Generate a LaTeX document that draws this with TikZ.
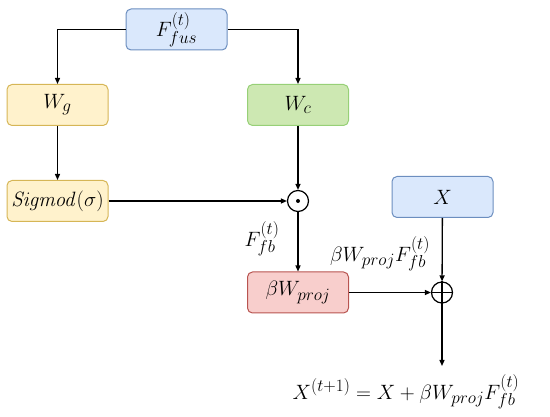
\documentclass[tikz,border=0pt]{standalone}
\usetikzlibrary{arrows.meta}
\DeclareMathSizes{21}{20.74}{17.28}{14.4}
\definecolor{bluefill}{HTML}{DAE8FC}\definecolor{blueline}{HTML}{6C8EBF}
\definecolor{yelfill}{HTML}{FFF2CC}\definecolor{yelline}{HTML}{D6B656}
\definecolor{grnfill}{HTML}{CDE8B2}\definecolor{grnline}{HTML}{97D077}
\definecolor{redfill}{HTML}{F8CECC}\definecolor{redline}{HTML}{B85450}
\tikzset{
  box/.style={draw, rounded corners=5pt, line width=1pt, minimum width=101pt, minimum height=41pt, inner sep=0pt, font=\fontsize{21}{25}\selectfont},
  bluebox/.style={box, fill=bluefill, draw=blueline},
  yelbox/.style={box, fill=yelfill, draw=yelline},
  grnbox/.style={box, fill=grnfill, draw=grnline},
  redbox/.style={box, fill=redfill, draw=redline},
  opnode/.style={draw, circle, line width=1.2pt, minimum size=21pt, inner sep=0pt},
  conn/.style={line width=1.3pt, -{Triangle[length=6pt,width=5pt]}},
  lab/.style={font=\fontsize{21}{25}\selectfont, inner sep=0pt}
}
\begin{document}
\begin{tikzpicture}[x=1pt,y=-1pt]
\useasboundingbox (0,0) rectangle (550,417);
\node[bluebox] (fus) at (176.5,29.5) {$F^{(t)}_{fus}$};
\node[yelbox] (wg) at (57.5,105) {$W_g$};
\node[grnbox] (wc) at (298,105) {$W_c$};
\node[yelbox] (sig) at (57.5,201) {$\mathit{Sigmod}(\sigma)$};
\node[opnode] (dot) at (298,201) {};
\fill (dot.center) circle (2pt);
\node[bluebox] (x) at (442.5,197) {$X$};
\node[redbox] (proj) at (298,292.5) {$\beta W_{proj}$};
\node[opnode] (plus) at (442,292.5) {};
\draw[line width=1.2pt] (plus.north) -- (plus.south) (plus.west) -- (plus.east);
\coordinate (out) at (442,366);
\node[lab] (ffb) at (262,239) {$F^{(t)}_{fb}$};
\node[lab] (bw) at (380,254) {$\beta W_{proj}F^{(t)}_{fb}$};
\node[lab] (res) at (406,392) {$X^{(t+1)} = X + \beta W_{proj}F^{(t)}_{fb}$};
\draw[conn] (fus.west) -| (wg.north);
\draw[conn] (fus.east) -| (wc.north);
\draw[conn] (wg) -- (sig);
\draw[conn] (wc) -- (dot);
\draw[conn] (sig) -- (dot);
\draw[conn] (dot) -- (proj);
\draw[conn] (proj) -- (plus);
\draw[conn] (x) -- (plus);
\draw[conn] (plus) -- (out);
\end{tikzpicture}
\end{document}
